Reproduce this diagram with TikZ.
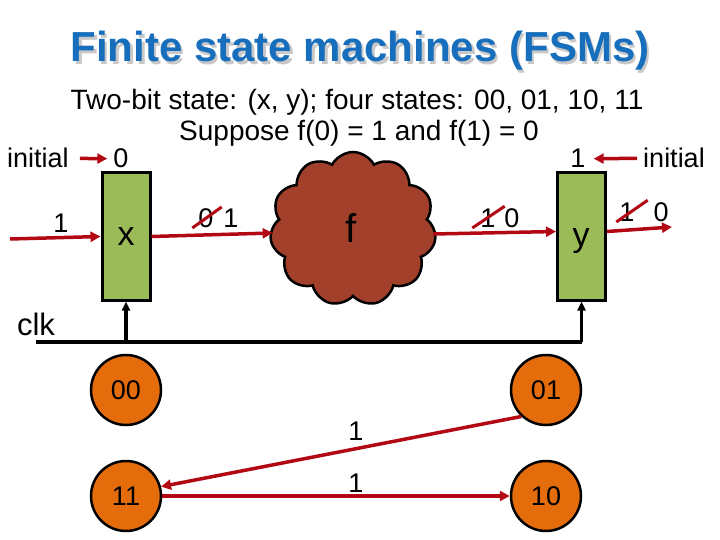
\documentclass[tikz,border=0pt]{standalone}
\usepackage{fontspec}
\setmainfont{Liberation Sans}
\usetikzlibrary{shapes.symbols,arrows.meta}
\definecolor{titleblue}{RGB}{22,110,188}
\definecolor{wirered}{RGB}{178,8,20}
\definecolor{boxgreen}{RGB}{155,187,89}
\definecolor{cloudbrown}{RGB}{162,64,44}
\definecolor{stateorange}{RGB}{228,108,10}
\definecolor{shadowgray}{RGB}{200,200,200}
\begin{document}
\begin{tikzpicture}[x=1pt,y=-1pt,
  lbl/.style={font=\fontsize{27}{27}\selectfont, inner sep=0pt, anchor=base},
  sub/.style={font=\fontsize{28}{28}\selectfont, inner sep=0pt, anchor=base},
  big/.style={font=\fontsize{34}{34}\selectfont, inner sep=0pt, anchor=base},
  ttl/.style={font=\fontsize{42}{42}\selectfont\bfseries, inner sep=0pt, anchor=base},
  regbox/.style={draw=black, line width=3pt, fill=boxgreen, minimum width=48pt, minimum height=127pt, inner sep=0pt},
  state/.style={circle, draw=black, line width=2.5pt, fill=stateorange, minimum size=70pt, inner sep=0pt, font=\fontsize{27}{27}\selectfont},
  wire/.style={draw=wirered, line width=3.5pt, -{Triangle[length=10pt,width=10pt]}},
  slash/.style={draw=wirered, line width=3pt},
  clkwire/.style={draw=black, line width=3.5pt},
  clkarrow/.style={draw=black, line width=3.5pt, -{Triangle[length=9pt,width=8pt]}}]
\useasboundingbox (0,0) rectangle (720,540);

% title
\node[ttl, text=shadowgray] (titlesh) at (362.5,64.5) {Finite state machines (FSMs)};
\node[ttl, text=titleblue] (title) at (360,62) {Finite state machines (FSMs)};
\node[sub] (sub1) at (357,110) {Two-bit state: (x, y); four states: 00, 01, 10, 11};
\node[sub] (sub2) at (359,141) {Suppose f(0) = 1 and f(1) = 0};

% registers
\node[regbox] (xbox) at (126,236.5) {};
\node[regbox] (ybox) at (581.5,236.5) {};
\node[big] (xlab) at (126,245) {x};
\node[big] (ylab) at (581,246) {y};

% cloud
\node[cloud, cloud puffs=11, cloud puff arc=125, aspect=1.05, draw=black, line width=2.5pt,
      fill=cloudbrown, minimum width=166pt, minimum height=154pt, inner sep=0pt] (cloud) at (353,229) {};
\node[font=\fontsize{40}{40}\selectfont, inner sep=0pt, anchor=base] (flab) at (351,243) {f};

% initial values
\node[lbl] (initL) at (38,168) {initial};
\node[lbl] (x0) at (121,168) {0};
\draw[wire, shorten <=11pt, shorten >=6pt] (initL.east) -- (x0.west);
\node[lbl] (initR) at (674,168) {initial};
\node[lbl] (y1) at (578,168) {1};
\draw[wire, shorten <=6pt, shorten >=8pt] (initR.west) -- (y1.east);

% input to x
\coordinate (inL) at (10,239);
\draw[wire] (inL) -- (xbox.west);
\node[lbl] (in1) at (61,233) {1};

% x to cloud
\draw[wire] (xbox.east) -- ([yshift=-4pt,xshift=2pt]cloud.west);
\node[lbl] (a0) at (206,228) {0};
\node[lbl] (a1) at (231,228) {1};
\draw[slash] ([xshift=-6pt]a0.base west) -- ([xshift=8pt,yshift=2pt]a0.north east);

% cloud to y
\draw[wire] ([yshift=-5pt,xshift=-2pt]cloud.east) -- ([yshift=5pt]ybox.west);
\node[lbl] (b1) at (488,228) {1};
\node[lbl] (b0) at (512,228) {0};
\draw[slash] ([xshift=-8pt]b1.base west) -- ([xshift=9pt,yshift=3pt]b1.north east);

% y output
\coordinate (outR) at (672,227);
\draw[wire] ([yshift=5pt]ybox.east) -- (outR);
\node[lbl] (c1) at (627,222) {1};
\node[lbl] (c0) at (661,222) {0};
\draw[slash] ([xshift=-3pt]c1.base west) -- ([xshift=13pt,yshift=3pt]c1.north east);

% clock
\node[font=\fontsize{31}{31}\selectfont, inner sep=0pt, anchor=base] (clk) at (36,335) {clk};
\coordinate (clkL) at (36,342);
\draw[clkwire] (clkL) -- (clkL -| ybox.south);
\draw[clkarrow] (clkL -| ybox.south) -- (ybox.south);
\draw[clkarrow] (clkL -| xbox.south) -- (xbox.south);

% states
\node[state] (s00) at (126,390) {00};
\node[state] (s01) at (546,390) {01};
\node[state] (s11) at (126,496) {11};
\node[state] (s10) at (546,496) {10};
\draw[wire] (s01.227) -- (s11.15);
\draw[wire] (s11.east) -- (s10.west);
\node[lbl] (e1) at (356,440) {1};
\node[lbl] (e2) at (356,492) {1};
\end{tikzpicture}
\end{document}
